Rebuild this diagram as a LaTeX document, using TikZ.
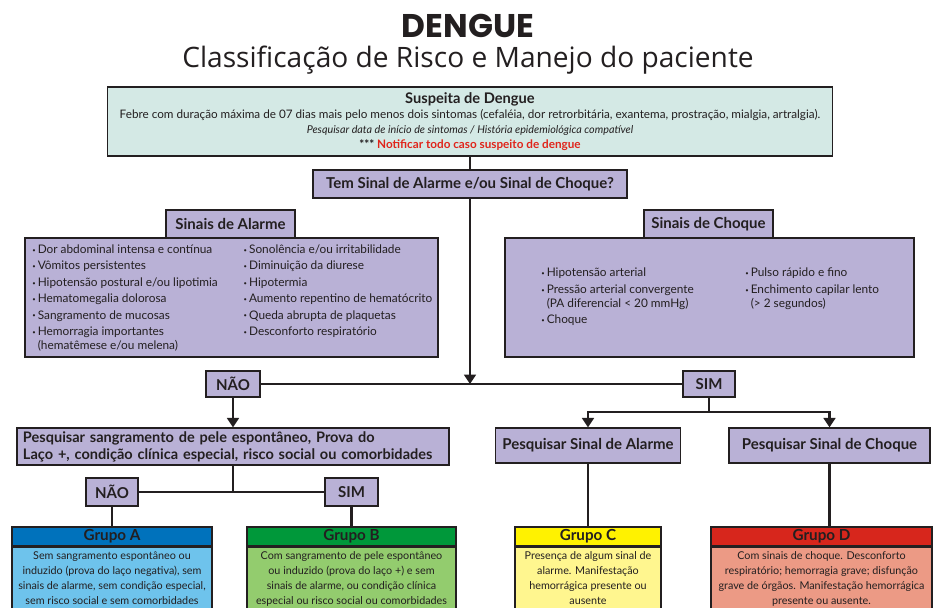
\documentclass[tikz,border=0pt]{standalone}
\usepackage{fontspec}
\setmainfont{Lato}
\newfontfamily\titlefont{Poppins}
\newfontfamily\subfont{Open Sans}
\usetikzlibrary{arrows.meta}
\definecolor{ink}{HTML}{231F20}
\definecolor{lav}{HTML}{B9B1D6}
\definecolor{mint}{HTML}{D4E9E5}
\definecolor{alert}{HTML}{E0251B}
\definecolor{headA}{HTML}{0072BC}
\definecolor{bodyA}{HTML}{6EC3EC}
\definecolor{headB}{HTML}{00983A}
\definecolor{bodyB}{HTML}{93CC6E}
\definecolor{headC}{HTML}{FFF200}
\definecolor{bodyC}{HTML}{FFF68F}
\definecolor{headD}{HTML}{D7261C}
\definecolor{bodyD}{HTML}{EC9A85}
\newcommand{\itm}{\raisebox{1pt}{\tiny\textbullet}\,}
\newcommand{\hang}{\phantom{\itm}}

\begin{document}
\begin{tikzpicture}[inner sep=1pt, text=ink,
   box/.style={draw=ink, line width=1.1pt, fill=lav, align=center,
      font=\bfseries\fontsize{12.8}{14}\selectfont},
   list/.style={anchor=north west, align=left, font=\fontsize{10.1}{14}\selectfont},
   flow/.style={draw=ink, line width=2.2pt},
   arr/.style={flow, -{Triangle[width=10pt,length=8pt]}},
   ghead/.style={draw=ink, line width=1.1pt, minimum height=0.57cm,
      font=\bfseries\fontsize{13}{14}\selectfont},
   gbody/.style={draw=ink, line width=1.1pt, minimum height=2.4cm, anchor=north},
   gtext/.style={anchor=north, align=center, font=\fontsize{9.2}{12.8}\selectfont}]
   \useasboundingbox (0,0) rectangle (28.08,-18.21);
   \clip (0,0) rectangle (28.08,-18.21);
   % titulo
   \node[font=\titlefont\bfseries\fontsize{28}{30}\selectfont] (title) at (14.04,-0.78) {DENGUE};
   \node[font=\subfont\fontsize{24}{26}\selectfont] (subtitle) at (14.04,-1.80) {Classificação de Risco e Manejo do paciente};
   % suspeita e pergunta
   \node[box, fill=mint, minimum width=21.75cm, minimum height=2.07cm, font=\fontsize{10}{12.8}\selectfont] (susp) at (14.1,-3.645)
      {{\bfseries\fontsize{12.5}{13}\selectfont Suspeita de Dengue}\\
       Febre com duração máxima de 07 dias mais pelo menos dois sintomas (cefaléia, dor retrorbitária, exantema, prostração, mialgia, artralgia).\\
       {\itshape\fontsize{9.2}{12}\selectfont Pesquisar data de início de sintomas / História epidemiológica compatível}\\
       \bfseries *** \textcolor{alert}{Notificar todo caso suspeito de dengue}};
   \node[box, minimum width=9.42cm, minimum height=0.84cm] (quest) at (14.1,-5.52) {Tem Sinal de Alarme e/ou Sinal de Choque?};
   % sinais de alarme
   \node[box, minimum width=12.39cm, minimum height=3.57cm] (alarme) at (6.945,-8.925) {};
   \node[box, minimum width=3.87cm, minimum height=0.84cm] (alarmeT) at (6.915,-6.72) {Sinais de Alarme};
   \node[list] (alarmeL) at (0.93,-7.30) {\itm Dor abdominal intensa e contínua\\ \itm Vômitos persistentes\\
      \itm Hipotensão postural e/ou lipotimia\\ \itm Hematomegalia dolorosa\\ \itm Sangramento de mucosas\\
      \itm Hemorragia importantes\\[-2pt] \hang(hematêmese e/ou melena)};
   \node[list] (alarmeR) at (7.27,-7.30) {\itm Sonolência e/ou irritabilidade\\ \itm Diminuição da diurese\\
      \itm Hipotermia\\ \itm Aumento repentino de hematócrito\\ \itm Queda abrupta de plaquetas\\
      \itm Desconforto respiratório};
   % sinais de choque
   \node[box, minimum width=12.27cm, minimum height=3.57cm] (choque) at (21.285,-8.925) {};
   \node[box, minimum width=3.87cm, minimum height=0.84cm] (choqueT) at (21.255,-6.72) {Sinais de Choque};
   \node[list] (choqueL) at (16.2,-8.0) {\itm Hipotensão arterial\\ \itm Pressão arterial convergente\\[-2pt]
      \hang(PA diferencial < 20 mmHg)\\ \itm Choque};
   \node[list] (choqueR) at (22.32,-8.0) {\itm Pulso rápido e fino\\ \itm Enchimento capilar lento\\[-2pt]
      \hang(> 2 segundos)};
   % respostas
   \coordinate (j1) at (14.1,-11.52);
   \node[box, minimum width=1.62cm, minimum height=0.78cm] (nao) at (6.99,-11.52) {NÃO};
   \node[box, minimum width=1.56cm, minimum height=0.78cm] (sim) at (21.27,-11.52) {SIM};
   \draw[flow] (susp) -- (quest);
   \draw[flow] (nao) -- (sim);
   \draw[arr] (quest) -- (j1);
   % ramo nao
   \node[box, minimum width=12.96cm, minimum height=1.11cm, align=left, text width=12.6cm,
      font=\bfseries\fontsize{12.4}{14.5}\selectfont] (pesq) at (6.99,-13.395)
      {Pesquisar sangramento de pele espontâneo, Prova do\\ Laço +, condição clínica especial, risco social ou comorbidades};
   \draw[arr] (nao) -- (pesq);
   \coordinate (j2) at (6.99,-14.76);
   \node[box, minimum width=1.56cm, minimum height=0.84cm] (nao2) at (3.36,-14.76) {NÃO};
   \node[box, minimum width=1.59cm, minimum height=0.84cm] (sim2) at (10.545,-14.76) {SIM};
   \draw[flow] (pesq) -- (j2);
   \draw[flow] (nao2) -- (sim2);
   % ramo sim
   \coordinate (j3) at (21.27,-12.36);
   \node[box, minimum width=5.55cm, minimum height=1.05cm] (psa) at (17.64,-13.365) {Pesquisar Sinal de Alarme};
   \node[box, minimum width=6.03cm, minimum height=1.05cm] (psc) at (24.885,-13.365) {Pesquisar Sinal de Choque};
   \draw[flow] (sim) -- (j3);
   \draw[arr] (j3) -| (psa);
   \draw[arr] (j3) -| (psc);
   % grupos
   \node[ghead, fill=headA, minimum width=6cm] (gA) at (3.36,-16.095) {Grupo A};
   \node[gbody, fill=bodyA, minimum width=6cm] (gAb) at (gA.south) {};
   \node[gtext] (gAt) at ([yshift=-3pt]gAb.north) {Sem sangramento espontâneo ou\\
      induzido (prova do laço negativa), sem\\ sinais de alarme, sem condição especial,\\ sem risco social e sem comorbidades};
   \node[ghead, fill=headB, minimum width=6.27cm] (gB) at (10.545,-16.095) {Grupo B};
   \node[gbody, fill=bodyB, minimum width=6.27cm] (gBb) at (gB.south) {};
   \node[gtext] (gBt) at ([yshift=-3pt]gBb.north) {Com sangramento de pele espontâneo\\
      ou induzido (prova do laço +) e sem\\ sinais de alarme, ou condição clínica\\ especial ou risco social ou comorbidades};
   \node[ghead, fill=headC, minimum width=4.38cm] (gC) at (17.64,-16.095) {Grupo C};
   \node[gbody, fill=bodyC, minimum width=4.38cm] (gCb) at (gC.south) {};
   \node[gtext] (gCt) at ([yshift=-3pt]gCb.north) {Presença de algum sinal de\\
      alarme. Manifestação\\ hemorrágica presente ou\\ ausente};
   \node[ghead, fill=headD, minimum width=6.63cm] (gD) at (24.645,-16.095) {Grupo D};
   \node[gbody, fill=bodyD, minimum width=6.63cm] (gDb) at (gD.south) {};
   \node[gtext] (gDt) at ([yshift=-3pt]gDb.north) {Com sinais de choque. Desconforto\\
      respiratório; hemorragia grave; disfunção\\ grave de órgãos. Manifestação hemorrágica\\ presente ou ausente.};
   \draw[flow] (nao2) -- (gA);
   \draw[flow] (sim2) -- (gB);
   \draw[flow] (psa) -- (gC);
   \draw[flow] (psc.south) -- (psc.south |- gD.north);
\end{tikzpicture}
\end{document}
